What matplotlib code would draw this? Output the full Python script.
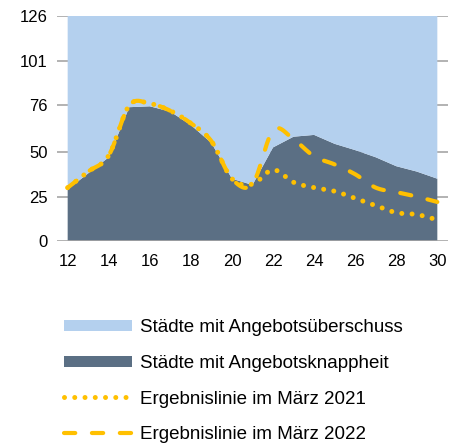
import numpy as np
import matplotlib
matplotlib.use("Agg")
import matplotlib.pyplot as plt
from matplotlib.patches import Patch
from matplotlib.lines import Line2D

plt.rcParams['font.family'] = ['Liberation Sans', 'DejaVu Sans']

years = list(range(12, 31))
knappheit = [29, 38, 47, 75, 75.5, 72.5, 65, 55, 35, 31.5, 52.5, 58.5, 59.5, 54.5, 51, 47, 42, 39, 35]
total = 126
line_2021 = [30, 39, 48, 76, 77, 73, 66, 56, 35, 32, 40, 33, 30, 28, 24, 20, 16, 15, 12]
line_2022 = [30, 39, 48, 76, 77, 73, 66, 56, 35, 32, 62, 57, 47.5, 43, 37.5, 30, 27.5, 25, 22]
yticks = [0, 25, 50, 76, 101, 126]
xticks = [12, 14, 16, 18, 20, 22, 24, 26, 28, 30]
labels = ["Städte mit Angebotsüberschuss", "Städte mit Angebotsknappheit",
          "Ergebnislinie im März 2021", "Ergebnislinie im März 2022"]

light = "#B4D0EE"
dark = "#5B6F84"
gold = "#FFC000"
grid = "#A6A6A6"


def smooth(x, y, n=20):
    # Catmull-Rom rendering of the read points (drawing only)
    x = np.asarray(x, float); y = np.asarray(y, float)
    P = np.column_stack([x, y])
    P = np.vstack([P[0] - (P[1] - P[0]), P, P[-1] + (P[-1] - P[-2])])
    out = []
    for i in range(1, len(P) - 2):
        p0, p1, p2, p3 = P[i - 1], P[i], P[i + 1], P[i + 2]
        t = np.linspace(0, 1, n, endpoint=False)[:, None]
        c = 0.5 * ((2 * p1) + (-p0 + p2) * t + (2 * p0 - 5 * p1 + 4 * p2 - p3) * t ** 2
                   + (-p0 + 3 * p1 - 3 * p2 + p3) * t ** 3)
        out.append(c)
    out.append(P[-2][None, :])
    c = np.vstack(out)
    return c[:, 0], c[:, 1]


fig = plt.figure(figsize=(4.49, 4.43), dpi=100)
ax = fig.add_axes([57.4 / 449, 1 - 241.3 / 443, (447.6 - 57.4) / 449, (241.3 - 16) / 443])

ueberschuss = [total - v for v in knappheit]
ax.stackplot(years, knappheit, ueberschuss, colors=[dark, light], zorder=2)

dot_style = (0, (0.001, 2.05))
dash_style = (0, (2.7, 4.0))
x1, y1 = smooth(years, line_2021)
ax.plot(x1, y1, color=gold, lw=3.6, linestyle=dot_style, dash_capstyle='round', zorder=4)
x2, y2 = smooth(years, line_2022)
ax.plot(x2, y2, color=gold, lw=3.0, linestyle=dash_style, dash_capstyle='round', zorder=3)

ax.set_xlim(11.5, 30.5)
ax.set_ylim(0, 126)
ax.set_yticks(yticks)
ax.set_xticks(xticks)
for v in yticks:
    ax.axhline(v, color=grid, lw=1.2, zorder=1 if v else 5)
for s in ax.spines.values():
    s.set_visible(False)
ax.tick_params(length=0, labelsize=12, colors="#000000")
ax.tick_params(axis='y', pad=7)
ax.tick_params(axis='x', pad=9)
ax.set_facecolor("white")

fs = 13.5
fs_px = fs * 100 / 72
handles = [Patch(facecolor=light, edgecolor='none'),
           Patch(facecolor=dark, edgecolor='none'),
           Line2D([], [], color=gold, lw=3.6, linestyle=dot_style, dash_capstyle='round'),
           Line2D([], [], color=gold, lw=3.0, linestyle=dash_style, dash_capstyle='round')]
fig.legend(handles, labels, loc='upper left', bbox_to_anchor=(64 / 449, 1 - 319 / 443),
           frameon=False, fontsize=fs, handlelength=68 / fs_px, handleheight=10 / fs_px,
           handletextpad=8 / fs_px, labelspacing=1.0, borderpad=0, borderaxespad=0)

fig.savefig("out.png", dpi=100)
